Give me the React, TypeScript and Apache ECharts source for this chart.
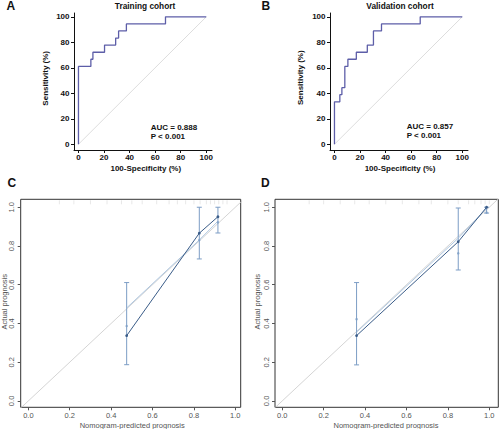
import React, { useEffect, useRef } from "react";
import * as echarts from "echarts";

// ROC data (panel A: training, panel B: validation)
const A_FPR = [0, 0, 9.7, 11.3, 20.4, 29.1, 31.4, 37.5, 68.1, 100];
const A_TPR = [0, 61.1, 66.7, 72.2, 77.8, 83.3, 88.9, 94.4, 100, 100];
const B_FPR = [0, 0, 4.2, 5.8, 8.1, 10.5, 17.1, 25.7, 30.5, 36.8, 67.1, 100];
const B_TPR = [0, 33.3, 38.9, 44.4, 61.1, 66.7, 72.2, 77.8, 88.9, 94.4, 100, 100];
const ROC_TICKS = [0, 20, 40, 60, 80, 100];
const A_AUC = "AUC = 0.888";
const B_AUC = "AUC = 0.857";
const P_TEXT = "P < 0.001";

// Calibration data (panel C: training, panel D: validation)
const CAL_TICKS = [0, 0.2, 0.4, 0.6, 0.8, 1.0];
const C_PRED = [0.475, 0.826, 0.916];
const C_OBS = [0.337, 0.866, 0.951];
const C_CORR = [0.387, 0.831, 0.922];
const C_LO = [0.187, 0.733, 0.867];
const C_HI = [0.611, 1.0, 1.0];
const C_LINE = [0.48, 0.831, 0.928];
const C_RUG = [0.15, 0.22, 0.3, 0.38, 0.45, 0.5, 0.55, 0.62, 0.68, 0.72, 0.76, 0.8, 0.83, 0.86, 0.88, 0.9, 0.92, 0.94, 0.96];

const D_PRED = [0.359, 0.85, 0.987];
const D_OBS = [0.337, 0.822, 1.0];
const D_CORR = [0.422, 0.762, 0.972];
const D_LO = [0.186, 0.676, 0.97];
const D_HI = [0.611, 0.996, 1.0];
const D_LINE = [0.355, 0.84, 0.995];
const D_RUG = [0.13, 0.2, 0.28, 0.35, 0.42, 0.5, 0.58, 0.66, 0.72, 0.8, 0.85, 0.9, 0.93, 0.96, 0.98, 1.0];

const FONT = 'Arial, "Liberation Sans", Helvetica, sans-serif';
const ROC_COLOR = "#5d5ea8";
const DARK = "#3a5c88";
const LIGHT = "#a4bfdc";
const ERR = "#7c9dc5";

const zip = (xs: number[], ys: number[]) => xs.map((x, i) => [x, ys[i]]);

function rocX(gridIndex: number) {
  return {
    type: "value",
    gridIndex,
    min: -3.5,
    max: 104.5,
    splitLine: { show: false },
    axisLine: { show: true, onZero: false, lineStyle: { color: "#111", width: 1 } },
    axisTick: { show: true, length: 3, customValues: ROC_TICKS, lineStyle: { color: "#111" } },
    axisLabel: {
      customValues: ROC_TICKS,
      margin: 3,
      fontSize: 8,
      fontWeight: "bold",
      color: "#111",
      fontFamily: FONT,
    },
  };
}
function rocY(gridIndex: number) {
  return {
    type: "value",
    gridIndex,
    min: -4.5,
    max: 103,
    splitLine: { show: false },
    axisLine: { show: true, onZero: false, lineStyle: { color: "#111", width: 1 } },
    axisTick: { show: true, length: 3, customValues: ROC_TICKS, lineStyle: { color: "#111" } },
    axisLabel: {
      customValues: ROC_TICKS,
      margin: 4.5,
      fontSize: 8,
      fontWeight: "bold",
      color: "#111",
      fontFamily: FONT,
    },
  };
}
function calX(gridIndex: number, min: number, max: number) {
  return {
    type: "value",
    gridIndex,
    min,
    max,
    splitLine: { show: false },
    axisLine: { show: false, onZero: false },
    axisTick: { show: true, length: 3, customValues: CAL_TICKS, lineStyle: { color: "#555" } },
    axisLabel: {
      customValues: CAL_TICKS,
      margin: 4,
      fontSize: 7.5,
      color: "#555",
      fontFamily: FONT,
      formatter: (v: number) => v.toFixed(1),
    },
  };
}
function calY(gridIndex: number, min: number, max: number) {
  return {
    type: "value",
    gridIndex,
    min,
    max,
    splitLine: { show: false },
    axisLine: { show: false, onZero: false },
    axisTick: { show: true, length: 3, customValues: CAL_TICKS, lineStyle: { color: "#555" } },
    axisLabel: {
      customValues: CAL_TICKS,
      margin: 5,
      rotate: 90,
      fontSize: 7.5,
      color: "#555",
      fontFamily: FONT,
      formatter: (v: number) => v.toFixed(1),
    },
  };
}

function errorBars(idx: number, pred: number[], lo: number[], hi: number[]) {
  return {
    type: "custom",
    xAxisIndex: idx,
    yAxisIndex: idx,
    data: pred.map((x, i) => [x, lo[i], hi[i]]),
    renderItem: (_params: any, api: any) => {
      const x = api.value(0);
      const pLo = api.coord([x, api.value(1)]);
      const pHi = api.coord([x, api.value(2)]);
      const st = { stroke: ERR, lineWidth: 1 };
      return {
        type: "group",
        children: [
          { type: "line", shape: { x1: pLo[0], y1: pLo[1], x2: pHi[0], y2: pHi[1] }, style: st },
          { type: "line", shape: { x1: pLo[0] - 2.5, y1: pLo[1], x2: pLo[0] + 2.5, y2: pLo[1] }, style: st },
          { type: "line", shape: { x1: pHi[0] - 2.5, y1: pHi[1], x2: pHi[0] + 2.5, y2: pHi[1] }, style: st },
        ],
      };
    },
    z: 2,
  };
}

function rug(idx: number, xs: number[]) {
  return {
    type: "custom",
    xAxisIndex: idx,
    yAxisIndex: idx,
    data: xs.map((x) => [x]),
    renderItem: (_params: any, api: any) => {
      const p = api.coord([api.value(0), 1.041]);
      return {
        type: "line",
        shape: { x1: p[0], y1: p[1] + 1, x2: p[0], y2: p[1] + 5 },
        style: { stroke: "#e2e2e2", lineWidth: 0.8 },
      };
    },
    z: 1,
  };
}

function calSeries(idx: number, pred: number[], obs: number[], corr: number[], lo: number[], hi: number[], lineY: number[], rugX: number[]) {
  return [
    {
      type: "line",
      xAxisIndex: idx,
      yAxisIndex: idx,
      data: [[-0.1, -0.1], [1.1, 1.1]],
      symbol: "none",
      lineStyle: { color: "#c9c9c9", width: 0.8 },
      z: 1,
    },
    rug(idx, rugX),
    errorBars(idx, pred, lo, hi),
    {
      type: "line",
      xAxisIndex: idx,
      yAxisIndex: idx,
      data: zip(pred, lineY),
      symbol: "none",
      lineStyle: { color: LIGHT, width: 0.9 },
      z: 3,
    },
    {
      type: "scatter",
      xAxisIndex: idx,
      yAxisIndex: idx,
      data: zip(pred, corr),
      symbol: "circle",
      symbolSize: 2.5,
      itemStyle: { color: ERR },
      z: 4,
    },
    {
      type: "line",
      xAxisIndex: idx,
      yAxisIndex: idx,
      data: zip(pred, obs),
      symbol: "circle",
      symbolSize: 2.8,
      itemStyle: { color: DARK },
      lineStyle: { color: DARK, width: 1 },
      z: 5,
    },
  ];
}

function rocSeries(idx: number, fpr: number[], tpr: number[]) {
  return [
    {
      type: "line",
      xAxisIndex: idx,
      yAxisIndex: idx,
      data: [[0, 0], [100, 100]],
      symbol: "none",
      lineStyle: { color: "#d4d4d4", width: 0.8 },
      z: 1,
    },
    {
      type: "line",
      xAxisIndex: idx,
      yAxisIndex: idx,
      data: zip(fpr, tpr),
      step: "end",
      symbol: "none",
      lineStyle: { color: ROC_COLOR, width: 1.3 },
      z: 3,
    },
  ];
}

function txt(text: string, x: number, y: number, opts: any = {}) {
  const { rotation, ...style } = opts;
  return {
    type: "text",
    x,
    y,
    rotation: rotation || 0,
    style: {
      text,
      fontFamily: FONT,
      fontSize: 8,
      fontWeight: "bold",
      fill: "#111",
      align: "center",
      verticalAlign: "middle",
      ...style,
    },
  };
}

export default function App() {
  const ref = useRef<HTMLDivElement>(null);
  useEffect(() => {
    if (!ref.current) return;
    const chart = echarts.init(ref.current, null, { renderer: "svg" });
    const calGridStyle = { show: true, borderColor: "#333", borderWidth: 1, backgroundColor: "transparent" };
    chart.setOption({
      animation: false,
      backgroundColor: "#ffffff",
      grid: [
        { left: 74, top: 13, width: 138, height: 137 },
        { left: 330, top: 13, width: 138, height: 137 },
        { left: 20.7, top: 199.3, width: 220, height: 208, ...calGridStyle },
        { left: 275, top: 199.3, width: 223.3, height: 208, ...calGridStyle },
      ],
      xAxis: [rocX(0), rocX(1), calX(2, -0.037, 1.026), calX(3, -0.035, 1.0435)],
      yAxis: [rocY(0), rocY(1), calY(2, -0.033, 1.041), calY(3, -0.033, 1.041)],
      series: [
        ...rocSeries(0, A_FPR, A_TPR),
        ...rocSeries(1, B_FPR, B_TPR),
        ...calSeries(2, C_PRED, C_OBS, C_CORR, C_LO, C_HI, C_LINE, C_RUG),
        ...calSeries(3, D_PRED, D_OBS, D_CORR, D_LO, D_HI, D_LINE, D_RUG),
      ],
      graphic: [
        txt("A", 6.5, 5.5, { fontSize: 12, align: "left" }),
        txt("B", 261.5, 5.5, { fontSize: 12, align: "left" }),
        txt("C", 7.5, 183, { fontSize: 12, align: "left" }),
        txt("D", 261, 183, { fontSize: 12, align: "left" }),
        txt("Training cohort", 145, 6, { fontSize: 8.3 }),
        txt("Validation cohort", 400, 6, { fontSize: 8.3 }),
        txt("Sensitivity (%)", 45, 78.3, { rotation: Math.PI / 2 }),
        txt("Sensitivity (%)", 300, 77.7, { rotation: Math.PI / 2 }),
        txt("100-Specificity (%)", 145.8, 168.3),
        txt("100-Specificity (%)", 400, 168.3),
        txt(A_AUC, 150.7, 127.3, { align: "left" }),
        txt(P_TEXT, 150.7, 136, { align: "left" }),
        txt(B_AUC, 406.7, 126.5, { align: "left" }),
        txt(P_TEXT, 406.7, 135.3, { align: "left" }),
        txt("Actual prognosis", 4.5, 301.7, { rotation: Math.PI / 2, fontWeight: "normal", fill: "#555", fontSize: 7.5 }),
        txt("Actual prognosis", 257.8, 301.7, { rotation: Math.PI / 2, fontWeight: "normal", fill: "#555", fontSize: 7.5 }),
        txt("Nomogram-predicted prognosis", 132.2, 425, { fontWeight: "normal", fill: "#555", fontSize: 7.5 }),
        txt("Nomogram-predicted prognosis", 386, 425, { fontWeight: "normal", fill: "#555", fontSize: 7.5 }),
      ],
    });
    return () => chart.dispose();
  }, []);
  return (
    <div
      ref={ref}
      style={{ position: "fixed", left: 0, top: 0, width: 500, height: 429, background: "#fff" }}
    />
  );
}
